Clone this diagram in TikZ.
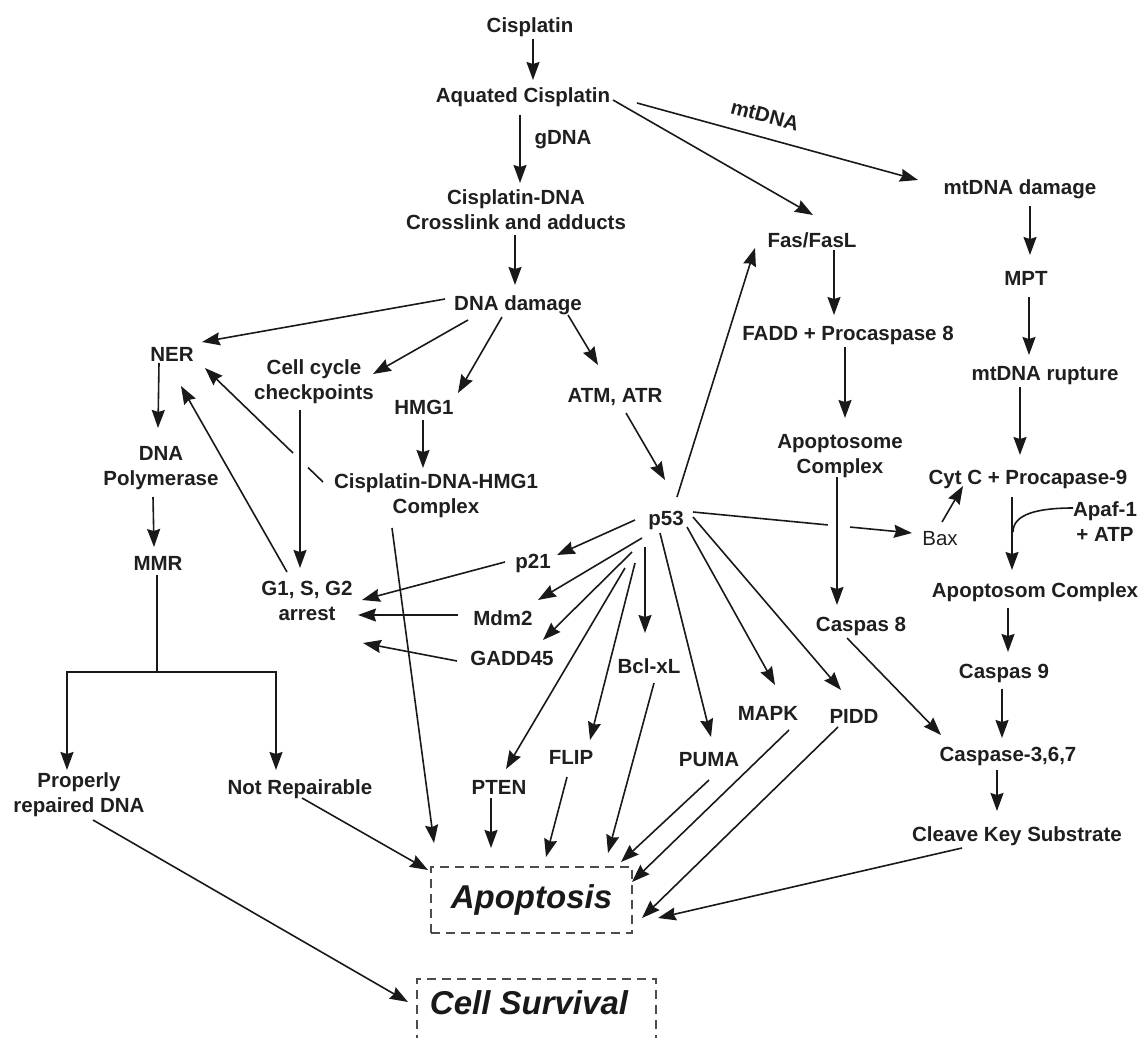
\documentclass[tikz,border=0pt]{standalone}
\usepackage{fontspec}
\setmainfont{Liberation Sans}
\usetikzlibrary{arrows.meta,calc}
\begin{document}
\begin{tikzpicture}[x=1pt,y=-1pt,
  lab/.style={font=\bfseries\fontsize{20.5}{25}\selectfont, inner sep=0pt, text height=15pt, text depth=0pt, text=black!88},
  lab2/.style={font=\bfseries\fontsize{20.5}{25}\selectfont, inner sep=0pt, align=center, text=black!88},
  bigtxt/.style={font=\bfseries\itshape\fontsize{33}{40}\selectfont, inner sep=0pt, text=black!90},
  dbox/.style={draw=black!70, line width=1.5pt, dash pattern=on 9pt off 6pt, minimum height=66pt, inner sep=0pt},
  lin/.style={draw=black!90, line width=1.6pt},
  arw/.style={lin, -{Stealth[length=18pt,width=13pt,inset=2pt]}}]
\useasboundingbox (0,0) rectangle (1143,1038);
% ---- nodes
\node[lab] (cis) at (530,25) {Cisplatin};
\node[lab] (aq) at (523,95) {Aquated Cisplatin};
\node[lab] (gdna) at (563,137) {gDNA};
\node[lab2] (cdna) at (516,210) {Cisplatin-DNA\\Crosslink and adducts};
\node[lab] (dnad) at (518,303) {DNA damage};
\node[lab] (ner) at (172,354) {NER};
\node[lab2] (ccc) at (314,382) {Cell cycle\\checkpoints};
\node[lab] (hmg) at (424,407) {HMG1};
\node[lab] (atm) at (615,395) {ATM, ATR};
\node[lab2] (dpol) at (161,468) {DNA\\Polymerase};
\node[lab] (mmr) at (158,563) {MMR};
\node[lab2] (chc) at (436,496) {Cisplatin-DNA-HMG1\\Complex};
\node[lab2] (arr) at (307,601) {G1, S, G2\\arrest};
\node[lab] (p53) at (666,518) {p53};
\node[lab] (p21) at (533,561) {p21};
\node[lab] (mdm2) at (503,618) {Mdm2};
\node[lab] (gadd) at (512,658) {GADD45};
\node[lab] (bcl) at (649,666) {Bcl-xL};
\node[lab] (pten) at (499,787) {PTEN};
\node[lab] (flip) at (571,757) {FLIP};
\node[lab] (puma) at (709,759) {PUMA};
\node[lab] (mapk) at (768,713) {MAPK};
\node[lab] (pidd) at (854,716) {PIDD};
\node[lab2] (prop) at (79,795) {Properly\\repaired DNA};
\node[lab] (notr) at (300,787) {Not Repairable};
\node[dbox, bigtxt, minimum width=201pt] (apop) at (531.5,900) {Apoptosis};
\node[dbox, minimum width=239pt] (survbox) at (536.5,1012) {};
\node[bigtxt] (surv) at (529,1003) {Cell Survival};
\node[lab, rotate=-15] (mtl) at (765,115) {mtDNA};
\node[lab] (fas) at (812,240) {Fas/FasL};
\node[lab] (fadd) at (848,333) {FADD + Procaspase 8};
\node[lab2] (apc) at (840,456) {Apoptosome\\Complex};
\node[lab] (c8) at (861,624) {Caspas 8};
\node[lab] (mtd) at (1020,187) {mtDNA damage};
\node[lab] (mpt) at (1026,278) {MPT};
\node[lab] (mtr) at (1045,373) {mtDNA rupture};
\node[lab] (cytc) at (1028,477) {Cyt C + Procapase-9};
\node[lab, font=\fontsize{20.5}{25}\selectfont] (bax) at (940,538) {Bax};
\node[lab2] (apaf) at (1105,522) {Apaf-1\\+ ATP};
\node[lab] (apsc) at (1035,590) {Apoptosom Complex};
\node[lab] (c9) at (1004,671) {Caspas 9};
\node[lab] (c367) at (1008,754) {Caspase-3,6,7};
\node[lab] (cks) at (1017,834) {Cleave Key Substrate};
% ---- helper coordinates
\coordinate (split) at ($(mmr)+(-1,109)$);
\coordinate (join) at ($(cytc)+(-15,55)$);
\coordinate (bxs) at ($(p53)+(27,-6)$);
\coordinate (bxe) at ($(bax)+(-28,-5)$);
\coordinate (cns) at ($(chc)+(-113,-14)$);
\coordinate (cne) at ($(ner)+(33,14)$);
% ---- top chain
\draw[arw] ($(cis)+(3,14)$) -- ($(aq)+(10,-15)$);
\draw[arw] ($(aq)+(-3,20)$) -- ($(cdna)+(4,-27)$);
\draw[arw] ($(cdna)+(-1,25)$) -- ($(dnad)+(-3,-18)$);
\draw[arw] ($(aq)+(90,5)$) -- ($(fas)+(1,-25)$);
\draw[arw] ($(aq)+(114,8)$) -- ($(mtd)+(-102,-7)$);
% ---- mitochondrial branch
\draw[arw] ($(mtd)+(10,19)$) -- ($(mpt)+(4,-23)$);
\draw[arw] ($(mpt)+(3,19)$) -- ($(mtr)+(-16,-18)$);
\draw[arw] ($(mtr)+(-25,14)$) -- ($(cytc)+(-8,-22)$);
\draw[arw] ($(cytc)+(-16,20)$) -- ($(apsc)+(-23,-20)$);
\draw[lin] ($(apaf)+(-32,-14)$) .. controls +(-35,0) and +(0,-18) .. (join);
\draw[arw] ($(apsc)+(-27,18)$) -- ($(c9)+(4,-19)$);
\draw[arw] ($(c9)+(-2,18)$) -- ($(c367)+(-6,-16)$);
\draw[arw] ($(c367)+(-11,16)$) -- ($(cks)+(-20,-23)$);
\draw[arw] ($(cks)+(-55,14)$) -- ($(apop)+(126.5,18)$);
% ---- Fas branch
\draw[arw] ($(fas)+(22,10)$) -- ($(fadd)+(-14,-18)$);
\draw[arw] ($(fadd)+(-3,14)$) -- ($(apc)+(5,-38)$);
\draw[arw] ($(apc)+(-3,21)$) -- ($(c8)+(-24,-19)$);
\draw[arw] ($(c8)+(-14,14)$) -- ($(c367)+(-67,-19)$);
\draw[arw] ($(bax)+(2,-16)$) -- ($(cytc)+(-65,9)$);
\draw[lin] (bxs) -- ($(bxs)!0.616!(bxe)$);
\draw[arw] ($(bxs)!0.717!(bxe)$) -- (bxe);
% ---- DNA damage fan
\draw[arw] ($(dnad)+(-73,-4)$) -- ($(ner)+(30,-12)$);
\draw[arw] ($(dnad)+(-50,17)$) -- ($(ccc)+(59,-8)$);
\draw[arw] ($(dnad)+(-16,14)$) -- ($(hmg)+(34,-14)$);
\draw[arw] ($(dnad)+(50,12)$) -- ($(atm)+(-17,-30)$);
\draw[arw] ($(atm)+(11,18)$) -- ($(p53)+(-1,-38)$);
\draw[arw] ($(p53)+(11,-21)$) -- ($(fas)+(-57,8)$);
\draw[arw] ($(hmg)+(-1,13)$) -- ($(chc)+(-13,-28)$);
% ---- repair branch
\draw[arw] ($(ner)+(-13,9)$) -- ($(dpol)+(-3,-40)$);
\draw[arw] ($(dpol)+(-8,29)$) -- ($(mmr)+(-4,-16)$);
\draw[lin] ($(mmr)+(-1,12)$) -- (split);
\draw[arw] (split) -| ($(prop)+(-12,-25)$);
\draw[arw] (split) -| ($(notr)+(-24,-17)$);
\draw[lin] (cns) -- ($(cns)!0.127!(cne)$);
\draw[arw] ($(cns)!0.254!(cne)$) -- (cne);
\draw[arw] ($(arr)+(-20,-29)$) -- ($(ner)+(9,32)$);
\draw[arw] ($(ccc)+(-14,28)$) -- ($(arr)+(-7,-33)$);
% ---- p53 fan
\draw[arw] ($(p53)+(-31,2)$) -- ($(p21)+(24,-6)$);
\draw[arw] ($(p21)+(-28,1)$) -- ($(arr)+(55,-1)$);
\draw[arw] ($(p53)+(-24,20)$) -- ($(mdm2)+(35,-18)$);
\draw[arw] ($(mdm2)+(-45,-3)$) -- ($(arr)+(51,14)$);
\draw[arw] ($(p53)+(-34,34)$) -- ($(gadd)+(31,-18)$);
\draw[arw] ($(gadd)+(-55,3)$) -- ($(arr)+(56,42)$);
\draw[arw] ($(p53)+(-41,50)$) -- ($(pten)+(7,-18)$);
\draw[arw] ($(p53)+(-31,45)$) -- ($(flip)+(19,-17)$);
\draw[arw] ($(p53)+(-21,29)$) -- ($(bcl)+(-4,-33)$);
\draw[arw] ($(p53)+(-6,15)$) -- ($(puma)+(2,-22)$);
\draw[arw] ($(p53)+(21,9)$) -- ($(mapk)+(7,-28)$);
\draw[arw] ($(p53)+(27,-1)$) -- ($(pidd)+(-13,-26)$);
% ---- into Apoptosis
\draw[arw] ($(chc)+(-44,32)$) -- ($(apop)+(-97.5,-57)$);
\draw[arw] ($(pten)+(-8,11)$) -- ($(apop)+(-40.5,-52)$);
\draw[arw] ($(flip)+(-4,20)$) -- ($(apop)+(14.5,-43)$);
\draw[arw] ($(bcl)+(5,17)$) -- ($(apop)+(76.5,-47)$);
\draw[arw] ($(puma)+(0,21)$) -- ($(apop)+(89.5,-38)$);
\draw[arw] ($(mapk)+(21,17)$) -- ($(apop)+(100.5,-18)$);
\draw[arw] ($(pidd)+(-16,11)$) -- ($(apop)+(110.5,18)$);
\draw[arw] ($(notr)+(2,11)$) -- ($(apop)+(-103.5,-30)$);
\draw[arw] ($(prop)+(14,25)$) -- ($(survbox)+(-128.5,-10)$);
\end{tikzpicture}
\end{document}
